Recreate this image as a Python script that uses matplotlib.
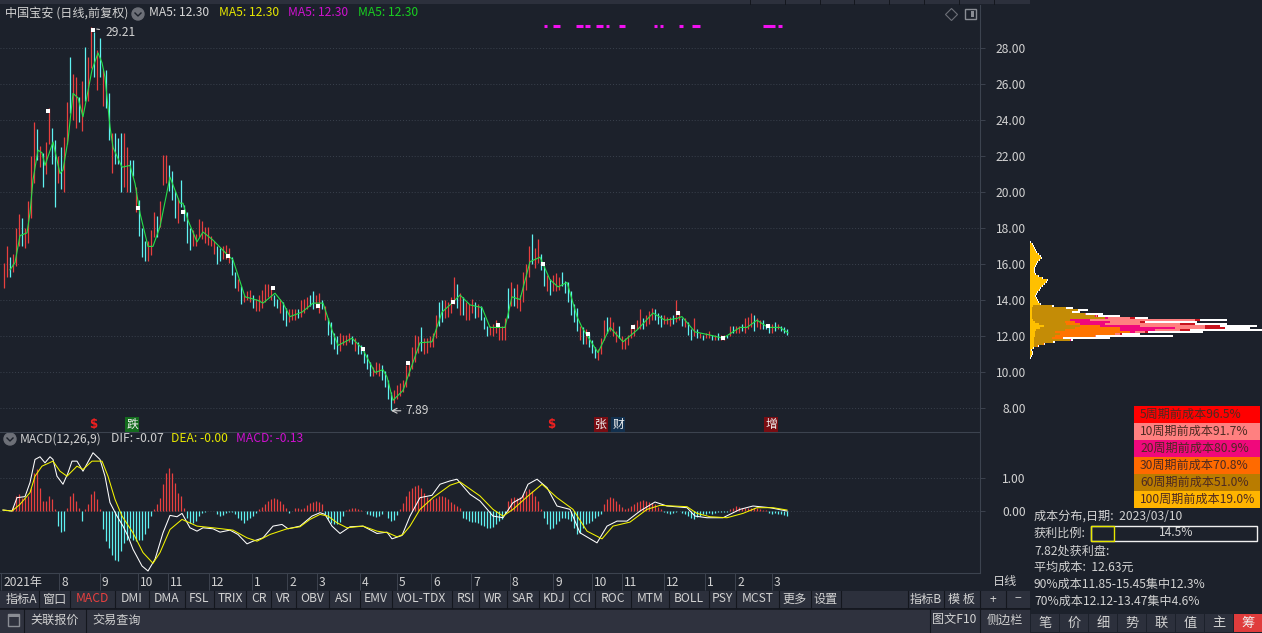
"""Rebuild the stock terminal screenshot: daily bars, MACD pane and cost distribution."""
import matplotlib
matplotlib.use("Agg")
import matplotlib.pyplot as plt
from matplotlib.patches import Rectangle, Circle

W, H = 1262, 633
BG = "#1c212b"
CHROME = "#2c303c"
LINE = "#3c434f"
TXT = "#d2d2d2"
RED = "#e8403f"
CYAN = "#5ff2f2"

plt.rcParams["font.family"] = ["Noto Sans CJK SC", "DejaVu Sans"]

# daily bars, one every third chart column
bar_high = [
    16.1, 17.0, 16.4, 16.6, 18.0, 18.8, 18.6, 18.0, 19.5, 22.0,
    23.9, 23.5, 22.6, 22.2, 22.8, 24.7, 23.6, 22.9, 22.0, 22.5,
    23.1, 25.0, 27.5, 26.6, 26.4, 25.3, 26.2, 28.1, 27.5, 29.21,
    28.9, 27.9, 28.6, 26.8, 26.8, 25.5, 23.3, 23.3, 23.0, 23.3,
    23.3, 22.5, 21.8, 21.8, 20.3, 19.6, 18.0, 17.3, 17.3, 17.9,
    18.9, 18.7, 19.5, 22.1, 22.1, 21.5, 21.2, 20.1, 19.7, 20.7,
    19.3, 18.9, 18.0, 17.9, 17.7, 18.5, 18.4, 18.1, 18.1, 17.6,
    17.3, 17.0, 16.9, 17.0, 17.1, 16.9, 16.4, 15.6, 15.2, 14.8,
    14.3, 14.5, 14.6, 14.3, 14.1, 14.3, 14.6, 14.9, 14.9, 14.8,
    14.3, 14.1, 14.1, 13.9, 13.6, 13.5, 13.5, 13.5, 13.5, 14.0,
    14.1, 14.2, 14.3, 14.5, 14.3, 14.4, 14.0, 13.7, 13.0, 12.8,
    12.2, 12.0, 12.2, 12.1, 12.1, 12.2, 12.0, 11.9, 11.7, 11.5,
    11.2, 11.0, 10.6, 10.3, 10.6, 10.5, 10.4, 10.1, 9.6, 8.9,
    9.0, 9.3, 9.4, 9.6, 10.4, 10.6, 11.4, 12.1, 12.0, 12.5,
    11.9, 11.9, 12.0, 12.2, 13.2, 13.9, 14.0, 14.0, 13.9, 14.2,
    15.3, 14.9, 14.4, 14.2, 13.9, 13.8, 14.1, 13.9, 13.8, 13.7,
    13.1, 12.6, 12.6, 12.7, 12.9, 12.6, 12.6, 13.0, 14.7, 15.0,
    14.7, 14.9, 14.3, 15.6, 16.0, 17.0, 17.7, 16.9, 17.4, 16.6,
    15.9, 15.4, 15.2, 15.4, 15.5, 15.3, 15.6, 15.1, 15.0, 14.5,
    13.8, 13.6, 12.6, 12.5, 12.4, 12.2, 11.8, 11.4, 11.3, 11.9,
    12.9, 13.1, 13.1, 12.8, 12.3, 12.6, 12.0, 11.9, 12.1, 12.5,
    12.7, 12.9, 13.5, 13.0, 13.2, 13.4, 13.6, 13.5, 13.3, 13.2,
    13.2, 13.1, 13.1, 13.2, 14.0, 13.4, 13.0, 13.0, 12.8, 12.4,
    13.0, 12.4, 12.2, 12.1, 12.2, 12.3, 12.1, 12.1, 12.2, 12.1,
    12.1, 12.1, 12.6, 12.6, 12.6, 12.6, 12.7, 13.0, 13.1, 13.3,
    13.2, 13.0, 12.9, 12.9, 12.7, 12.7, 12.7, 12.8, 12.7, 12.6,
    12.5, 12.4,
]
bar_low = [
    14.7, 15.3, 15.3, 15.6, 15.9, 17.0, 17.0, 16.9, 17.2, 18.6,
    20.5, 21.8, 21.4, 20.3, 21.0, 22.7, 21.6, 19.2, 20.5, 20.2,
    20.0, 22.7, 24.4, 24.0, 23.6, 23.9, 23.4, 25.1, 25.1, 26.9,
    26.4, 25.7, 26.4, 24.8, 24.7, 22.9, 21.1, 21.6, 21.6, 20.0,
    20.3, 20.0, 20.0, 20.9, 18.9, 17.6, 16.4, 16.2, 16.2, 16.5,
    17.5, 17.5, 18.1, 20.4, 20.5, 20.1, 19.6, 18.6, 18.3, 19.2,
    18.4, 17.2, 16.8, 17.0, 17.0, 17.5, 17.4, 17.2, 17.1, 17.0,
    16.6, 16.0, 16.2, 16.3, 16.3, 16.1, 15.4, 14.7, 14.5, 13.8,
    13.9, 14.0, 13.9, 13.6, 13.4, 13.4, 13.6, 13.9, 14.2, 14.0,
    13.7, 13.6, 13.3, 12.9, 12.6, 12.8, 12.9, 12.9, 13.0, 13.1,
    13.3, 13.5, 13.7, 13.5, 13.6, 13.3, 13.5, 12.9, 12.1, 11.6,
    11.3, 11.0, 11.2, 11.5, 11.5, 11.7, 11.6, 11.2, 11.0, 11.0,
    10.5, 10.2, 9.8, 9.8, 9.9, 9.8, 9.6, 9.2, 8.5, 7.89,
    8.3, 8.5, 8.7, 8.9, 9.2, 9.8, 10.2, 10.6, 11.1, 11.2,
    11.0, 11.1, 11.4, 11.4, 11.9, 12.6, 12.8, 13.0, 13.1, 13.3,
    13.8, 13.6, 13.2, 13.2, 12.9, 12.9, 13.3, 13.0, 13.1, 12.9,
    12.4, 12.0, 12.1, 12.0, 12.2, 11.8, 11.8, 11.8, 13.0, 13.7,
    13.7, 13.6, 13.4, 13.9, 14.6, 15.3, 16.0, 15.8, 16.1, 15.7,
    14.8, 14.5, 14.3, 14.5, 14.5, 14.6, 14.8, 14.4, 13.9, 13.2,
    12.8, 12.3, 11.8, 11.6, 11.6, 11.4, 11.1, 10.8, 10.7, 11.0,
    11.8, 12.2, 12.3, 12.0, 11.7, 11.9, 11.3, 11.3, 11.5, 11.9,
    12.0, 12.4, 12.4, 12.4, 12.6, 12.7, 12.9, 12.9, 12.7, 12.5,
    12.7, 12.7, 12.6, 12.7, 12.8, 12.9, 12.6, 12.5, 12.1, 11.8,
    12.0, 11.9, 11.9, 11.8, 11.9, 11.9, 11.8, 11.8, 11.8, 11.8,
    11.8, 11.9, 12.0, 12.2, 12.2, 12.2, 12.3, 12.2, 12.4, 12.5,
    12.3, 12.5, 12.4, 12.4, 12.4, 12.2, 12.2, 12.3, 12.4, 12.3,
    12.2, 12.1,
]
bar_up = [
    1, 1, 0, 1, 1, 1, 0, 1, 1, 1,
    1, 0, 1, 0, 1, 1, 0, 0, 1, 0,
    1, 1, 0, 1, 1, 0, 1, 0, 1, 1,
    0, 1, 0, 1, 0, 0, 1, 0, 0, 0,
    1, 1, 0, 0, 1, 0, 0, 0, 1, 1,
    1, 0, 1, 1, 1, 0, 0, 0, 1, 0,
    0, 0, 0, 1, 1, 1, 1, 1, 1, 1,
    1, 0, 0, 1, 1, 1, 0, 0, 1, 0,
    1, 1, 1, 0, 1, 1, 1, 1, 1, 1,
    0, 0, 1, 0, 0, 1, 1, 1, 0, 1,
    1, 1, 0, 0, 1, 1, 0, 1, 0, 0,
    0, 0, 1, 1, 1, 1, 0, 1, 0, 0,
    0, 0, 0, 1, 1, 1, 0, 0, 0, 0,
    1, 1, 1, 1, 1, 1, 1, 1, 1, 0,
    1, 1, 1, 1, 1, 0, 0, 1, 1, 1,
    1, 0, 1, 0, 1, 1, 1, 0, 1, 0,
    0, 0, 1, 1, 1, 1, 1, 1, 0, 1,
    0, 1, 1, 1, 1, 1, 0, 1, 1, 0,
    0, 1, 0, 1, 1, 1, 0, 0, 0, 0,
    0, 0, 1, 0, 1, 0, 0, 0, 1, 1,
    1, 0, 1, 1, 1, 0, 1, 1, 1, 1,
    1, 1, 1, 0, 1, 1, 1, 0, 0, 0,
    1, 1, 1, 0, 1, 1, 0, 1, 0, 0,
    1, 0, 1, 0, 1, 1, 0, 1, 0, 1,
    1, 0, 1, 0, 1, 1, 0, 1, 1, 1,
    0, 1, 1, 0, 0, 0, 1, 0, 1, 0,
    0, 0,
]
macd_hist = [
    0, 0, 0, .15, .45, .5, .4, .4, .45, .7,
    1.15, 1.25, .7, .3, .3, .45, .35, .05, -.45, -.62,
    -.6, .1, .45, .55, .3, .1, -.3, .05, .2, .5,
    .6, .35, .05, -.55, -.9, -1.1, -1.3, -1.45, -1.5, -1.2,
    -.95, -.85, -.8, -.85, -.9, -.85, -.85, -.7, -.5, -.15,
    .05, .2, .4, .8, 1.15, 1.3, 1.15, .85, .55, .45,
    .1, -.2, -.35, -.35, -.3, -.15, -.05, -.02, 0, 0,
    0, -.1, -.15, -.12, -.05, -.02, -.02, -.1, -.2, -.28,
    -.35, -.28, -.2, -.15, -.06, .05, .12, .2, .3, .35,
    .4, .35, .3, .2, .1, -.05, 0, .08, .1, .05,
    .1, .18, .25, .28, .3, .28, .2, -.1, -.25, -.35,
    -.4, -.38, -.32, -.15, .02, .06, .08, .08, .06, .02,
    0, -.08, -.13, -.15, -.18, -.15, -.08, 0, -.2, -.3,
    -.28, -.12, .05, .25, .45, .6, .7, .75, .77, .7,
    .55, .42, .35, .35, .4, .45, .45, .42, .35, .28,
    .2, .15, .1, -.2, -.25, -.3, -.32, -.32, -.35, -.42,
    -.45, -.5, -.52, -.48, -.4, -.3, -.25, -.08, .3, .38,
    .42, .38, .42, .5, .6, .65, .6, .45, .3, .05,
    -.2, -.4, -.55, -.5, -.4, -.3, -.22, -.2, -.25, -.3,
    -.5, -.7, -.65, -.5, -.4, -.35, -.3, -.22, -.15, -.08,
    .2, .35, .42, .38, .3, .2, .12, .05, .08, .15,
    .22, .28, .3, .32, .3, .28, .25, .2, .12, .05,
    -.03, -.05, -.08, -.05, -.02, 0, -.05, -.08, -.15, -.2,
    -.25, -.18, -.15, -.1, -.08, -.05, -.08, -.05, -.02, -.03,
    -.02, -.02, .05, .1, .15, .12, .1, .08, .1, .08,
    .08, .1, .06, .03, .02, -.05, -.1, -.07, -.1, -.08,
    -.12, -.15,
]

# moving average read at its turning points
ma_col = [
    10, 15, 20, 27, 30, 33, 38, 42, 45, 53, 60, 63, 68, 73, 78, 83, 92, 98, 102, 105,
    110, 113, 122, 130, 135, 140, 148, 153, 160, 170, 180, 183, 188, 197, 203, 213, 228, 233, 245, 258,
    263, 275, 283, 290, 302, 313, 323, 332, 338, 352, 362, 375, 383, 387, 393, 403, 420, 432, 442, 452,
    460, 470, 482, 490, 505, 512, 520, 530, 540, 550, 558, 567, 577, 582, 598, 610, 623, 637, 653, 665,
    677, 682, 695, 708, 723, 740, 747, 757, 768, 780, 788,
]
ma_val = [
    15.7, 16.1, 17.6, 17.75, 18.85, 20.7, 22.35, 22.2, 21.5, 22.8, 21.05, 21.25, 22.9, 25.5, 25.25, 24.2, 26.8, 27.75, 27.2, 26.4,
    23.65, 22.5, 21.4, 21.5, 20.5, 18.85, 17.0, 17.0, 18.1, 20.85, 19.4, 19.4, 18.45, 17.25, 17.8, 17.35, 16.5, 16.25, 14.2, 14.0,
    13.85, 14.4, 13.85, 13.1, 13.35, 13.85, 13.85, 12.35, 11.5, 11.9, 11.35, 10.0, 10.15, 9.75, 8.45, 9.0, 11.65, 11.7, 13.35, 13.85,
    14.3, 13.75, 13.6, 12.5, 12.5, 14.2, 14.05, 16.15, 16.4, 15.15, 14.75, 15.0, 13.1, 12.5, 11.1, 12.5, 11.7, 12.35, 13.3, 12.9,
    13.0, 13.1, 12.25, 12.1, 11.9, 12.5, 12.5, 12.9, 12.5, 12.5, 12.2,
]

dif_col = [
    3, 12, 17, 25, 30, 35, 40, 45, 50, 53, 57, 63, 68, 72, 77, 83, 93, 100, 105, 110,
    117, 123, 128, 133, 142, 148, 155, 163, 170, 177, 182, 190, 197, 203, 213, 220, 230, 238, 247, 253,
    263, 273, 282, 288, 300, 312, 320, 325, 332, 340, 350, 363, 377, 387, 392, 402, 410, 420, 432, 440,
    450, 457, 470, 480, 493, 503, 513, 522, 528, 537, 547, 557, 570, 580, 597, 607, 617, 627, 640, 655,
    667, 687, 695, 707, 723, 740, 753, 770, 787,
]
dif_val = [
    .03, 0, .4, .43, .85, 1.54, 1.62, 1.44, 1.62, 1.54, 1.04, .8, 1.14, 1.49, 1.49, 1.19, 1.74, 1.54, 1.04, .25,
    -.15, -.45, -.75, -1.14, -1.64, -1.79, -1.44, -.65, -.13, -.17, -.07, -.5, -.6, -.5, -.53, -.63, -.57, -.7, -.98, -.9,
    -.8, -.45, -.4, -.53, -.45, -.15, -.05, -.1, -.45, -.67, -.47, -.45, -.67, -.63, -.83, -.73, -.15, .4, .47, .8,
    .9, .95, .5, .3, -.15, -.2, .25, .4, .8, .95, .7, .15, .05, -.65, -.95, -.45, -.3, -.3, 0, .27,
    .15, .1, -.15, -.2, -.2, .05, .15, .1, 0,
]
dea_col = [
    3, 12, 20, 30, 35, 42, 53, 60, 67, 77, 83, 92, 102, 108, 115, 122, 133, 143, 153, 160,
    170, 182, 197, 213, 233, 247, 257, 270, 287, 300, 310, 320, 328, 337, 347, 363, 377, 388, 397, 403,
    410, 420, 433, 450, 460, 480, 493, 503, 513, 528, 542, 557, 573, 587, 602, 613, 630, 647, 660, 687,
    697, 710, 727, 743, 757, 773, 787,
]
dea_val = [
    .03, 0, .2, .55, 1.04, 1.34, 1.49, 1.19, 1.04, 1.34, 1.24, 1.49, 1.49, 1.04, .35, -.15, -.65, -1.24, -1.56, -1.24,
    -.55, -.25, -.45, -.5, -.57, -.8, -.9, -.7, -.53, -.47, -.25, -.1, -.15, -.35, -.5, -.45, -.6, -.65, -.77, -.7,
    -.45, .05, .4, .77, .87, .45, .05, -.15, .05, .45, .8, .4, .05, -.6, -.83, -.45, -.33, .05, .17, .13,
    -.07, -.17, -.2, -.07, .1, .1, .03,
]

# white square markers on the price pane
mark_col = [48, 93, 138, 183, 228, 273, 318, 363, 408, 453, 498, 543, 588, 633, 678, 723, 768]
mark_val = [24.5, 29.0, 19.15, 18.9, 16.45, 14.7, 13.7, 11.3, 10.55, 13.9, 12.65, 16.05, 12.15, 12.5, 13.3, 11.9, 12.6]

# magenta signal strip
sig_start = [544, 553, 576, 585, 596, 606, 619, 654, 660, 679, 692, 763, 778]
sig_end = [547, 560, 583, 590, 603, 609, 625, 657, 663, 683, 700, 775, 782]

price_ticks = [8, 10, 12, 14, 16, 18, 20, 22, 24, 26, 28]
macd_ticks = [0, 1]
month_col = [1, 59, 100, 138, 168, 209, 252, 287, 317, 360, 397, 431, 471, 510, 553, 592, 622, 664, 705, 735, 772]
month_label = ["2021年", "8", "9", "10", "11", "12", "1", "2", "3", "4", "5", "6", "7", "8", "9", "10", "11", "12", "1", "2", "3"]

# cost distribution, widths per price bin
chip_price = [
    17.35, 17.24, 17.13, 17.02, 16.91, 16.80, 16.69, 16.57, 16.46, 16.35, 16.24, 16.13, 16.02, 15.91, 15.80, 15.69,
    15.57, 15.46, 15.35, 15.24, 15.13, 15.02, 14.91, 14.80, 14.69, 14.57, 14.46, 14.35, 14.24, 14.13, 14.02, 13.91,
    13.80, 13.69, 13.57, 13.46, 13.35, 13.24, 13.13, 13.02, 12.91, 12.80, 12.69, 12.57, 12.46, 12.35, 12.24, 12.13,
    12.02, 11.91, 11.80, 11.69, 11.57, 11.46, 11.35, 11.24, 11.13, 11.02, 10.91, 10.80, 10.69,
]
chip_total = [
    0, 1, 3, 4, 5, 6, 7, 9, 11, 12, 10, 8, 7, 6, 5, 5, 5, 6, 9, 13,
    18, 17, 15, 13, 11, 10, 8, 7, 6, 7, 8, 9, 11, 24, 43, 58, 50, 73, 90, 118,
    197, 167, 197, 227, 220, 232, 173, 110, 143, 80, 43, 25, 15, 9, 4, 2, 3, 3, 2, 1, 0,
]
chip_100 = [
    0, 0, 2, 3, 4, 5, 6, 8, 10, 11, 9, 7, 6, 5, 4, 4, 4, 5, 8, 12,
    17, 16, 14, 12, 10, 9, 7, 6, 5, 6, 7, 8, 10, 3, 2, 2, 2, 2, 2, 2,
    3, 5, 9, 14, 10, 6, 5, 5, 5, 4, 4, 4, 4, 4, 3, 1, 2, 2, 1, 0, 0,
]
# the newer layers only exist around the current price
core_price = chip_price[33:56]
chip_5 = [22, 36, 48, 42, 56, 68, 105, 170, 115, 165, 190, 195, 160, 118, 92, 66, 33, 41, 23, 14, 8, 3, 1]
chip_10 = [22, 36, 48, 42, 56, 67, 100, 165, 110, 150, 175, 175, 150, 115, 90, 66, 33, 41, 23, 14, 8, 3, 1]
chip_20 = [22, 36, 48, 42, 55, 66, 78, 60, 80, 75, 110, 145, 125, 105, 85, 65, 33, 41, 23, 14, 8, 3, 1]
chip_30 = [22, 36, 48, 42, 55, 65, 75, 40, 45, 50, 70, 90, 90, 100, 85, 65, 33, 40, 23, 14, 8, 3, 1]
chip_60 = [22, 36, 48, 42, 55, 65, 75, 40, 35, 36, 50, 45, 35, 25, 30, 25, 22, 40, 23, 13, 7, 3, 1]

legend_labels = ["5周期前成本96.5%", "10周期前成本91.7%", "20周期前成本80.9%", "30周期前成本70.8%", "60周期前成本51.0%", "100周期前成本19.0%"]
legend_colors = ["#ff0000", "#ff8080", "#f0087c", "#ff6a00", "#b97c00", "#ffb400"]

tab_labels = ["指标A", "窗口", "MACD", "DMI", "DMA", "FSL", "TRIX", "CR", "VR", "OBV", "ASI", "EMV", "VOL-TDX", "RSI", "WR", "SAR", "KDJ", "CCI", "ROC", "MTM", "BOLL", "PSY", "MCST", "更多", "设置"]
tab_edges = [3, 39, 70, 115, 149, 185, 214, 246, 271, 296, 329, 360, 392, 452, 479, 507, 539, 569, 595, 631, 669, 709, 736, 779, 811, 841]
side_tabs = ["笔", "价", "细", "势", "联", "值", "主", "筹"]


def px_axes(fig, left, top, right, bottom):
    return fig.add_axes([left / W, 1 - bottom / H, (right - left) / W, (bottom - top) / H])


fig = plt.figure(figsize=(W / 100, H / 100), dpi=100, facecolor=BG)

# window furniture and text live on one overlay counted in screen pixels
ui = px_axes(fig, 0, 0, W, H)
ui.set_xlim(0, W)
ui.set_ylim(H, 0)
ui.axis("off")
ui.set_facecolor("none")


def label(x, y, s, color=TXT, size=8.7, ha="left", **kw):
    ui.text(x, y, s, color=color, fontsize=size, ha=ha, va="center", **kw)


def box(x0, y0, x1, y1, fc, ec="none", lw=0.8):
    ui.add_patch(Rectangle((x0, y0), x1 - x0, y1 - y0, facecolor=fc, edgecolor=ec, linewidth=lw))


box(0, 0, 1030, 4, CHROME)
for x in [750, 785, 820, 854, 889, 924, 959, 994]:
    ui.plot([x, x], [0, 4], color="#14171e", lw=0.7)

label(5, 13, "中国宝安 (日线,前复权)")
ui.add_patch(Circle((138, 14), 6, color="#6d7078"))
ui.plot([135, 138, 141], [13, 16, 13], color="#1c212b", lw=1)
for x, c in zip([149, 219, 288, 358], ["#d8d8d8", "#e8e800", "#d010d0", "#18d020"]):
    label(x, 13, "MA5: 12.30", color=c)
ui.plot([951], [14], marker="D", ms=6, mfc="none", mec="#6d7078", mew=0.8)
box(965, 9, 976, 19, "none", ec="#8a8d94", lw=1)
box(971, 11, 974, 17, "#8a8d94")

ui.add_patch(Circle((10, 439), 6, color="#6d7078"))
ui.plot([7, 10, 13], [438, 441, 438], color="#1c212b", lw=1)
label(20, 439, "MACD(12,26,9)")
label(111, 439, "DIF: -0.07")
label(171, 439, "DEA: -0.00", color="#e8e800")
label(236, 439, "MACD: -0.13", color="#d010d0")

label(993, 581, "日线", size=8.7)

# tab strips
box(0, 591, 1030, 608, CHROME)
box(0, 609, 1030, 633, "#2f323e")
ui.plot([0, 1030], [608.5, 608.5], color="#14171e", lw=1.2)
for i, name in enumerate(tab_labels):
    x0, x1 = tab_edges[i], tab_edges[i + 1]
    ui.plot([x1 - 0.5, x1 - 0.5], [591, 608], color="#14171e", lw=0.8)
    label((x0 + x1) / 2, 599, name, color=RED if name == "MACD" else TXT, ha="center")
for x0, x1, name in [(908, 943, "指标B"), (944, 979, "模 板"), (980, 1005, "+"), (1006, 1030, "−")]:
    ui.plot([x0 - 0.5, x0 - 0.5], [591, 608], color="#14171e", lw=0.8)
    label((x0 + x1) / 2, 599, name, ha="center")
for x0, x1, name in [(24, 85, "关联报价"), (86, 147, "交易查询"), (930, 979, "图文F10"), (980, 1030, "侧边栏")]:
    ui.plot([x0 - 0.5, x0 - 0.5], [609, 633], color="#14171e", lw=0.8)
    label((x0 + x1) / 2, 620, name, ha="center")
box(8, 614, 19, 626, "none", ec="#8a8d94", lw=1)
box(8, 614, 19, 617, "#8a8d94")

# legend and info column of the distribution
for i, (name, c) in enumerate(zip(legend_labels, legend_colors)):
    box(1134, 406 + 17 * i, 1260, 423 + 17 * i, c)
    label(1140, 414.5 + 17 * i, name, color="#4d2a22")
label(1034, 516, "成本分布,日期:  2023/03/10")
label(1034, 533, "获利比例:")
box(1091, 526, 1257, 541, "none", ec="#f0f0f0", lw=1)
box(1091, 526, 1114, 541, "none", ec="#e8e800", lw=1)
label(1176, 533, "14.5%", ha="center")
label(1034, 551, "7.82处获利盘:")
label(1034, 567, "平均成本:  12.63元")
label(1034, 584, "90%成本11.85-15.45集中12.3%")
label(1034, 601, "70%成本12.12-13.47集中4.6%")
for i, name in enumerate(side_tabs):
    x0 = 1031 + 29 * i
    box(x0, 614, x0 + 28, 632, "#e03c3c" if name == "筹" else CHROME)
    label(x0 + 14, 623, name, ha="center", size=9.5, color="#f0f0f0" if name == "筹" else TXT)

# price pane
ax = px_axes(fig, 0, 5, 980, 432)
ax.set_facecolor("none")
ax.set_xlim(0, 980)
ax.set_ylim(6.69, 30.41)
bar_col = [4 + 3 * i for i in range(len(bar_high))]
bar_colors = [RED if up else CYAN for up in bar_up]
ax.vlines(bar_col, bar_low, bar_high, colors=bar_colors, linewidth=0.9)
ax.plot(ma_col, ma_val, color="#26e04a", lw=0.8, zorder=3)
ax.scatter(mark_col, mark_val, marker="s", s=11, color="white", linewidths=0, zorder=4)
ax.hlines([29.27] * len(sig_start), sig_start, sig_end, colors="#f010f0", linewidth=2.2)
ax.annotate("29.21", xy=(94, 29.1), xytext=(105, 28.86), color=TXT, fontsize=8.7, va="center",
            arrowprops=dict(arrowstyle="-", color=TXT, lw=0.8))
ax.annotate("7.89", xy=(391, 7.87), xytext=(405, 7.87), color=TXT, fontsize=8.7, va="center",
            arrowprops=dict(arrowstyle="->", color=TXT, lw=0.8, shrinkA=1, shrinkB=0))
ax.set_yticks(price_ticks, [f"{v:.2f}" for v in price_ticks])
ax.grid(axis="y", color="#3a414d", lw=0.7, ls=(0, (1, 2)))
ax.set_axisbelow(True)

for col, s, fc in [(93, "$", None), (132, "跌", "#146c1e"), (551, "$", None), (601, "张", "#7a0c12"),
                   (618, "财", "#12304e"), (771, "增", "#7a0c12")]:
    style = dict(bbox=dict(facecolor=fc, edgecolor="none", pad=0.8)) if fc else dict(family="DejaVu Sans", fontweight="bold")
    ax.text(col, 0.0175, s, transform=ax.get_xaxis_transform(), ha="center", va="center", fontsize=8.5,
            color="#f02020" if fc is None else "#f0f0f0", **style)

# macd pane
mx = px_axes(fig, 0, 432, 980, 573)
mx.set_facecolor("none")
mx.set_xlim(0, 980)
mx.set_ylim(-1.85, 2.36)
hist_colors = [RED if v > 0 else CYAN for v in macd_hist]
mx.vlines(bar_col, 0, macd_hist, colors=hist_colors, linewidth=0.9)
mx.plot(dif_col, dif_val, color="white", lw=0.75)
mx.plot(dea_col, dea_val, color="#f4f400", lw=0.75)
mx.set_yticks(macd_ticks, [f"{v:.2f}" for v in macd_ticks])
mx.grid(axis="y", color="#3a414d", lw=0.7, ls=(0, (1, 2)))
mx.set_axisbelow(True)
mx.set_xticks(month_col, [""] * len(month_col))
mx.tick_params(axis="x", length=12, width=0.7, color=LINE)
for col, s in zip(month_col, month_label):
    mx.text(col + 2, -0.065, s, transform=mx.get_xaxis_transform(), color=TXT, fontsize=8.7, va="center")

for a in (ax, mx):
    a.yaxis.tick_right()
    a.tick_params(axis="y", length=3.6, width=0.7, color=LINE, labelcolor=TXT, labelsize=8.7, pad=29.5)
    for t in a.get_yticklabels():
        t.set_ha("right")
    a.xaxis.set_ticks_position("bottom")
    a.spines["top"].set_visible(False)
    a.spines["left"].set_visible(False)
    a.spines["right"].set_color(LINE)
    a.spines["bottom"].set_color(LINE)
ax.set_xticks([])

# cost distribution shares the price scale
cx = px_axes(fig, 1030, 5, W, 432)
cx.set_facecolor("none")
cx.set_xlim(0, 232)
cx.set_ylim(6.69, 30.41)
cx.axis("off")
bin_h = 0.115
cx.barh(chip_price, chip_total, height=bin_h, color="white", linewidth=0)
for widths, c in zip([chip_5, chip_10, chip_20, chip_30, chip_60], ["#c8141e", "#ff8080", "#f0087c", "#ff7400", "#c48c06"]):
    cx.barh(core_price, widths, height=bin_h, color=c, linewidth=0)
cx.barh(chip_price, chip_100, height=bin_h, color="#ffc000", linewidth=0)

fig.savefig("out.png", dpi=100, facecolor=BG)
